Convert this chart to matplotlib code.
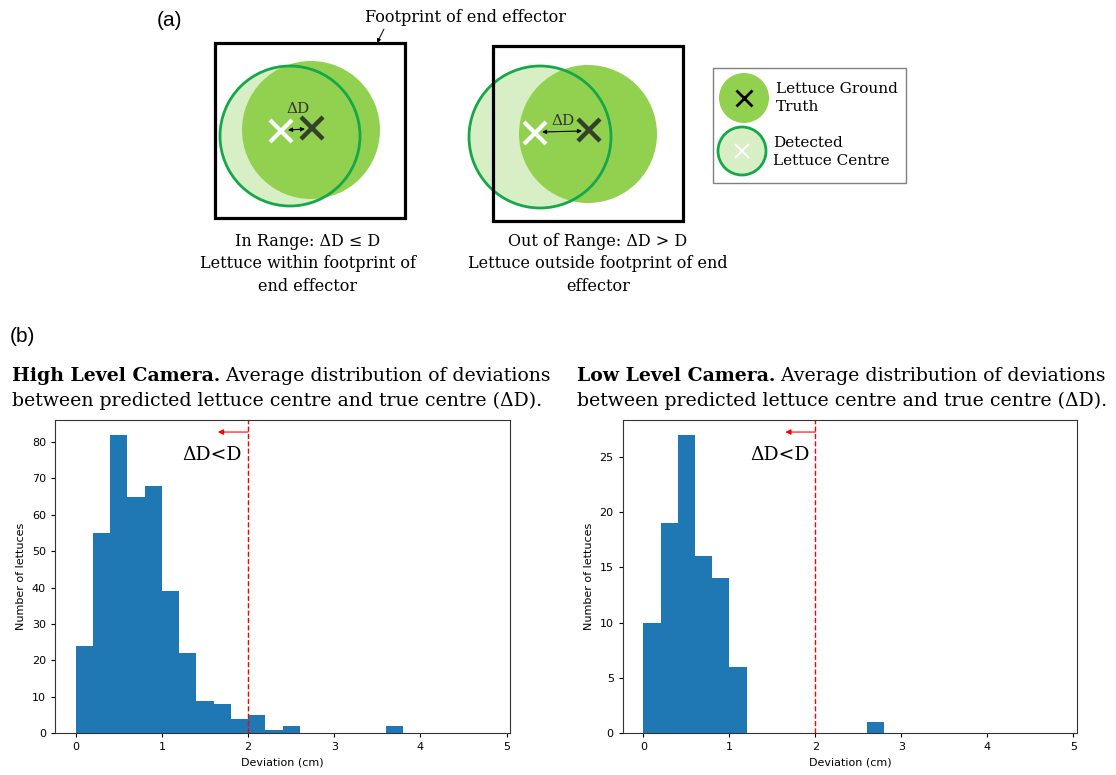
import numpy as np
import matplotlib
matplotlib.use("Agg")
import matplotlib.pyplot as plt
from matplotlib.patches import Rectangle, Circle
import matplotlib.transforms as mtransforms

# histogram data: counts per 0.2 cm bin, 0 .. 4.8 cm
bin_edges = np.round(np.arange(0, 4.81, 0.2), 2)
high_counts = [24, 55, 82, 65, 68, 39, 22, 9, 8, 4, 5, 1, 2,
               0, 0, 0, 0, 0, 2, 0, 0, 0, 0, 0]
low_counts = [10, 19, 27, 16, 14, 6, 0, 0, 0, 0, 0, 0, 0,
              1, 0, 0, 0, 0, 0, 0, 0, 0, 0, 0]
threshold = 2.0

titles_bold = ["High Level Camera.", "Low Level Camera."]
title_rest = " Average distribution of deviations"
title_line2 = "between predicted lettuce centre and true centre (\u0394D)."

GT_GREEN = "#92d050"
DET_FILL = "#d8eec4"
DET_EDGE = "#14a84a"
DARK_X = "#33412a"
SERIF = "DejaVu Serif"

fig = plt.figure(figsize=(11.16, 7.75), dpi=100)

# overlay in pixel coordinates for the schematic and headings
ov = fig.add_axes([0, 0, 1, 1])
ov.set_xlim(0, 1116)
ov.set_ylim(775, 0)
ov.axis("off")

ov.text(157, 20, "(a)", fontsize=15, family="Liberation Sans", va="center", ha="left")
ov.text(10, 337, "(b)", fontsize=15, family="Liberation Sans", va="center", ha="left")

# schematic: two footprints with ground truth / detected lettuce
def lettuce_pair(sq_x, sq_y, gt_c, det_c, r_gt, r_det, wx, dx, dlabel):
    ov.add_patch(Circle(det_c, r_det, facecolor=DET_FILL, edgecolor="none", zorder=2))
    ov.add_patch(Circle(gt_c, r_gt, facecolor=GT_GREEN, edgecolor="none", zorder=3))
    ov.add_patch(Circle(det_c, r_det, facecolor="none", edgecolor=DET_EDGE, lw=2, zorder=4))
    ov.add_patch(Rectangle((sq_x, sq_y), 190, 175, facecolor="none", edgecolor="black",
                           lw=2.3, zorder=5))
    ov.plot(*wx, marker="x", ms=16, mew=3, color="white", zorder=6)
    ov.plot(*dx, marker="x", ms=16, mew=3.2, color=DARK_X, zorder=6)
    ov.annotate("", xy=(dx[0] - 7, dx[1] + 1), xytext=(wx[0] + 7, wx[1] - 1),
                arrowprops=dict(arrowstyle="<|-|>", lw=0.8, color="black",
                                mutation_scale=6, shrinkA=0, shrinkB=0), zorder=7)
    ov.text(dlabel[0], dlabel[1], "\u0394D", family=SERIF, fontsize=11, color="#333333",
            ha="center", va="center", zorder=7)

lettuce_pair(215, 43, (311, 130), (290, 136), 69, 70, (281, 131), (312, 128), (298, 109))
lettuce_pair(493, 46, (588, 134), (540, 137), 69, 71, (535, 133), (589, 130), (563, 121))

ov.text(365, 17, "Footprint of end effector", family=SERIF, fontsize=11.5,
        ha="left", va="center")
ov.annotate("", xy=(377, 43), xytext=(384, 29),
            arrowprops=dict(arrowstyle="-|>", lw=0.7, color="black", mutation_scale=6,
                            shrinkA=0, shrinkB=0))

ov.text(308, 264, "In Range: \u0394D \u2264 D\nLettuce within footprint of\nend effector",
        family=SERIF, fontsize=11.5, ha="center", va="center", linespacing=1.45)
ov.text(598, 264, "Out of Range: \u0394D > D\nLettuce outside footprint of end\neffector",
        family=SERIF, fontsize=11.5, ha="center", va="center", linespacing=1.45)

# legend box
ov.add_patch(Rectangle((713, 68), 193, 115, facecolor="white", edgecolor="#808080", lw=1))
ov.add_patch(Circle((744, 98), 25, facecolor=GT_GREEN, edgecolor="none"))
ov.plot(744, 98, marker="x", ms=11, mew=2, color="black")
ov.add_patch(Circle((742, 151), 24, facecolor=DET_FILL, edgecolor=DET_EDGE, lw=2))
ov.plot(742, 151, marker="x", ms=10, mew=1.5, color="white")
ov.text(776, 98, "Lettuce Ground\nTruth", family=SERIF, fontsize=11, ha="left",
        va="center", linespacing=1.3)
ov.text(773, 152, "Detected\nLettuce Centre", family=SERIF, fontsize=11, ha="left",
        va="center", linespacing=1.3)

# headings over the histograms
renderer = fig.canvas.get_renderer()
inv = ov.transData.inverted()
for x0, bold in zip([12, 577], titles_bold):
    t = ov.text(x0, 381, bold, family=SERIF, fontsize=13.6, fontweight="bold",
                ha="left", va="baseline")
    bb = t.get_window_extent(renderer=renderer)
    x_end = inv.transform((bb.x1, bb.y0))[0]
    ov.text(x_end, 381, title_rest, family=SERIF, fontsize=13.6, ha="left", va="baseline")
    ov.text(x0, 406, title_line2, family=SERIF, fontsize=13.6, ha="left", va="baseline")

# histograms
ax_hi = fig.add_axes([0.0493, 0.0538, 0.4077, 0.4045])
ax_lo = fig.add_axes([0.558, 0.0538, 0.407, 0.4045])

bin_lefts = bin_edges[:-1] + 0.1
for ax, counts in [(ax_hi, high_counts), (ax_lo, low_counts)]:
    ax.hist(bin_lefts, bins=bin_edges, weights=counts, color="#1f77b4")
    ax.axvline(threshold, color="red", ls="--", lw=1)
    trans = mtransforms.blended_transform_factory(ax.transData, ax.transAxes)
    ax.annotate("", xy=(1.65, 0.961), xycoords=trans, xytext=(threshold, 0.961),
                textcoords=trans,
                arrowprops=dict(arrowstyle="-|>", color="red", lw=0.8,
                                mutation_scale=8, shrinkA=0, shrinkB=0))
    ax.text(1.93, 0.887, "\u0394D<D", transform=trans, family=SERIF, fontsize=13.5,
            ha="right", va="center")
    ax.set_xlabel("Deviation (cm)", fontsize=8)
    ax.set_ylabel("Number of lettuces", fontsize=8)
    ax.tick_params(labelsize=8, length=3)
    for sp in ax.spines.values():
        sp.set_color("#333333")

fig.savefig("out.png", dpi=100)
